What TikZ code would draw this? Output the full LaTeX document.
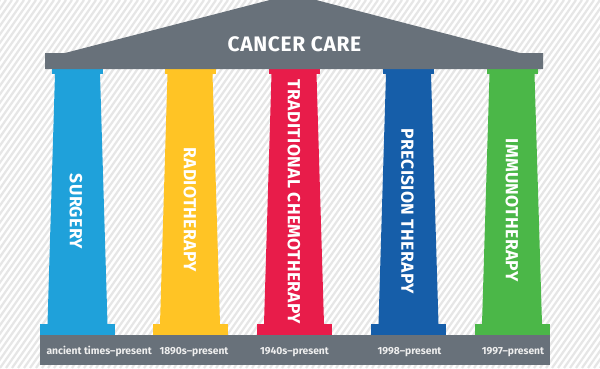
\documentclass[tikz,border=0pt]{standalone}
\usepackage{fontspec}
\setmainfont{Fira Sans}
\definecolor{roofgray}{HTML}{68717A}
\definecolor{stripegray}{HTML}{E6E6E6}
\definecolor{datewhite}{HTML}{EEEEEE}
\definecolor{surgeryblue}{HTML}{1FA1DA}
\definecolor{radioyellow}{HTML}{FFC425}
\definecolor{chemored}{HTML}{E81C4A}
\definecolor{precisionblue}{HTML}{165EA9}
\definecolor{immunogreen}{HTML}{4BB748}

\begin{document}
\begin{tikzpicture}[x=1pt,y=-1pt,
        stripe/.style={stripegray,line width=2.2pt},
        title/.style={text=white,font=\bfseries\fontsize{21}{21}\selectfont\addfontfeature{LetterSpace=3}},
        pillar label/.style={rotate=-90,text=white,font=\bfseries\fontsize{17.5}{17.5}\selectfont\addfontfeature{LetterSpace=2}},
        date label/.style={text=datewhite,font=\bfseries\fontsize{10.3}{12}\selectfont}]

      \useasboundingbox (0,0) rectangle (600,368);
      \fill[white] (0,0) rectangle (600,368);
      \begin{scope}
        \clip (0,0) rectangle (600,368);
        \foreach \x in {-270,-264,...,606} \draw[stripe] (\x,368) -- ++(258,-368);
      \end{scope}

      % pillars: capital, tapered shaft, base
      \foreach \cx/\col in {77.5/surgeryblue,190/radioyellow,294/chemored,408.5/precisionblue,512/immunogreen} {
        \fill[\col] (\cx-25.5,69) rectangle (\cx+25.5,74);
        \fill[\col] (\cx-22.5,74) -- (\cx+22.5,74) -- (\cx+30,324) -- (\cx-30,324) -- cycle;
        \fill[\col] (\cx-37.5,324) rectangle (\cx+37.5,335);
      }

      % roof and floor
      \fill[roofgray] (45,69) -- (45,53) -- (65,53) -- (293,-6) -- (520,53) -- (543,53) -- (543,69) -- cycle;
      \fill[roofgray] (40,335) rectangle (550,365);

      \node[title] (care) at (294.5,44) {CANCER CARE};

      \node[pillar label] (surgery) at (76,211.5) {SURGERY};
      \node[pillar label] (radio) at (190,209.5) {RADIOTHERAPY};
      \node[pillar label] (chemo) at (294,202) {TRADITIONAL CHEMOTHERAPY};
      \node[pillar label] (precision) at (407.5,211) {PRECISION THERAPY};
      \node[pillar label] (immuno) at (512,210) {IMMUNOTHERAPY};

      \node[date label,anchor=base west] (ancient) at (43,354) {ancient times–present};
      \node[date label,anchor=base] (d1890) at (194,354) {1890s–present};
      \node[date label,anchor=base] (d1940) at (294.5,354) {1940s–present};
      \node[date label,anchor=base] (d1998) at (409.5,354) {1998–present};
      \node[date label,anchor=base] (d1997) at (513,354) {1997–present};
\end{tikzpicture}
\end{document}
